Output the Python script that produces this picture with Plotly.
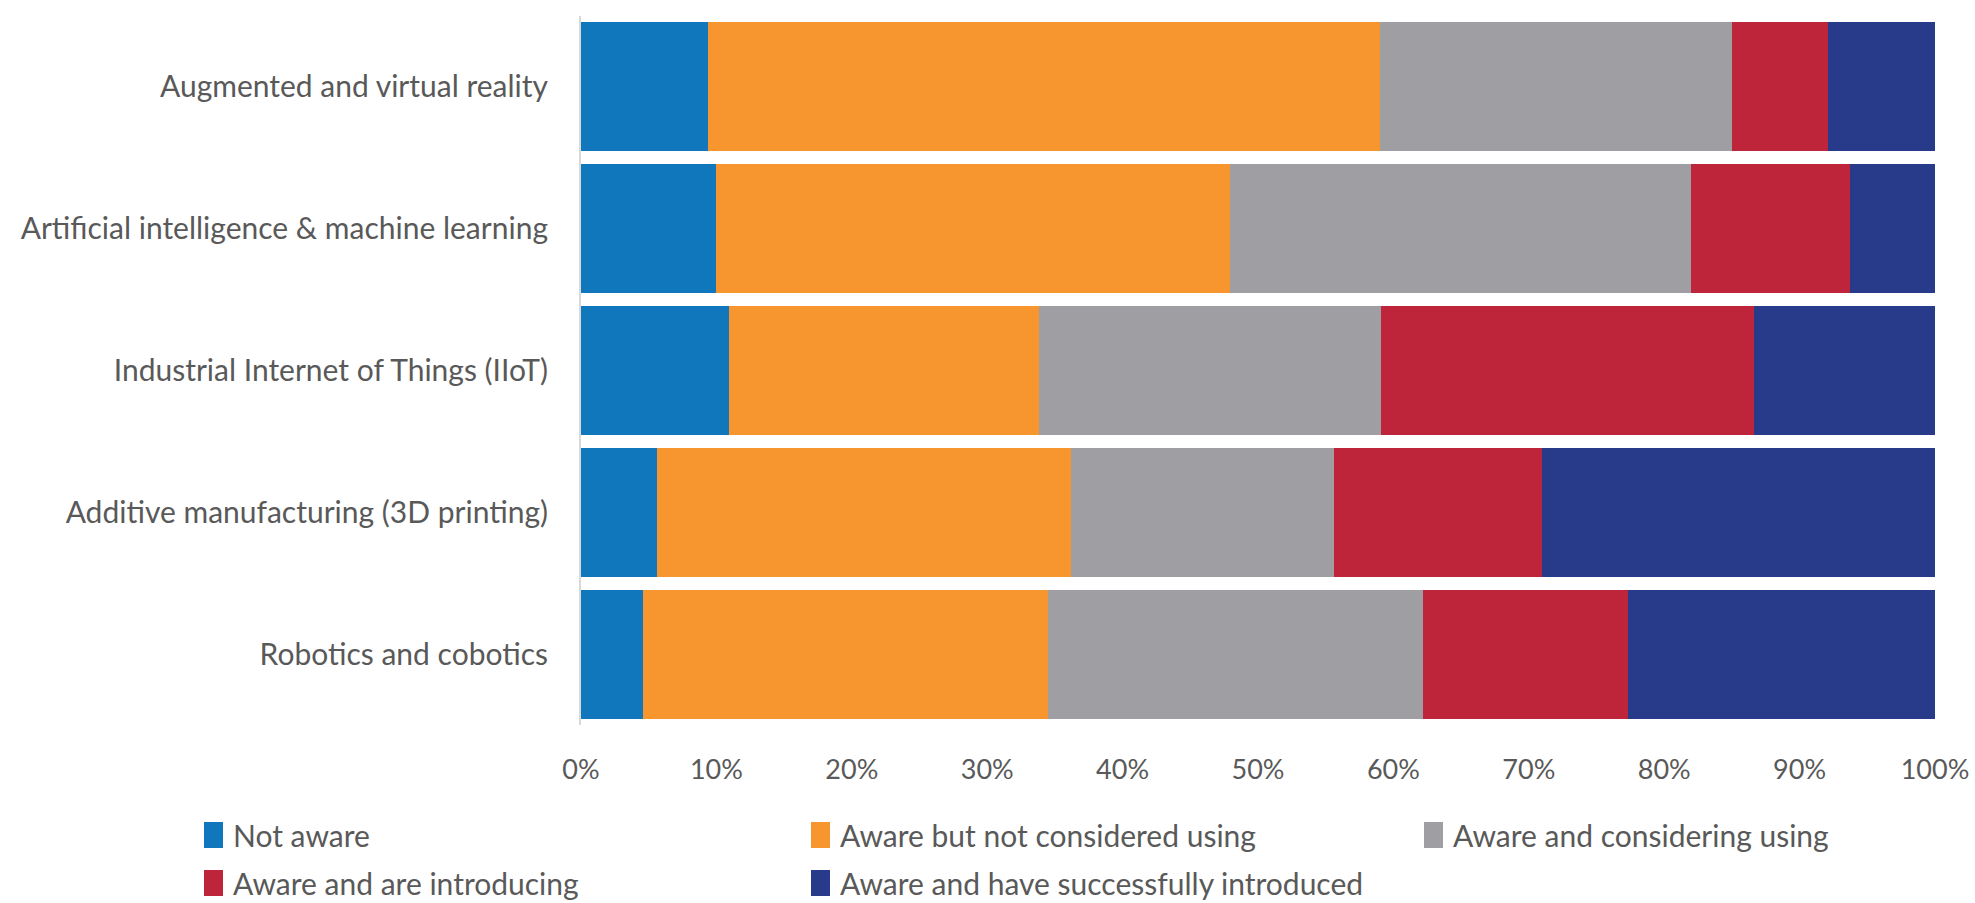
import plotly.graph_objects as go

# Technologies (top to bottom) and share of respondents per awareness level
technologies = [
    "Augmented and virtual reality",
    "Artificial intelligence & machine learning",
    "Industrial Internet of Things (IIoT)",
    "Additive manufacturing (3D printing)",
    "Robotics and cobotics",
]
not_aware = [9.4, 10.0, 10.9, 5.6, 4.6]
aware_not_considered = [49.6, 37.9, 22.9, 30.6, 29.9]
aware_considering = [26.0, 34.1, 25.3, 19.4, 27.7]
aware_introducing = [7.1, 11.7, 27.5, 15.4, 15.1]
aware_introduced = [7.9, 6.3, 13.4, 29.0, 22.7]

series_names = [
    "Not aware",
    "Aware but not considered using",
    "Aware and considering using",
    "Aware and are introducing",
    "Aware and have successfully introduced",
]
series_values = [not_aware, aware_not_considered, aware_considering,
                 aware_introducing, aware_introduced]
colors = ["#1177BC", "#F7962F", "#9F9EA3", "#BE253A", "#283A8A"]

FONT = "Lato"
TEXT = "#595959"

fig = go.Figure()
for name, vals, col in zip(series_names, series_values, colors):
    fig.add_trace(go.Bar(
        y=technologies, x=[v / 100 for v in vals], name=name,
        orientation="h", marker=dict(color=col, line=dict(width=0)),
        showlegend=False,
    ))

# Legend laid out as a 3-column grid below the axis (pixel positions)
W, H = 1975, 903
L, R, T, B = 581, 40, 16, 178
PW, PH = W - L - R, H - T - B
legend_pos = [(204, 835), (811, 835), (1424, 835), (204, 883), (811, 883)]


def px_x(x):
    return (x - L) / PW


def px_y(y):
    return (H - B - y) / PH


for (px, py), name, col in zip(legend_pos, series_names, colors):
    fig.add_shape(type="rect", xref="paper", yref="paper",
                  x0=px_x(px), x1=px_x(px + 19),
                  y0=px_y(py + 13), y1=px_y(py - 13),
                  fillcolor=col, line=dict(width=0))
    fig.add_annotation(xref="paper", yref="paper",
                       x=px_x(px + 27), y=px_y(py),
                       xanchor="left", yanchor="middle", text=name,
                       showarrow=False,
                       font=dict(family=FONT, size=30, color=TEXT))

fig.update_layout(
    barmode="stack",
    bargap=0.09,
    width=W, height=H,
    margin=dict(l=L, r=R, t=T, b=B),
    paper_bgcolor="white", plot_bgcolor="white",
    font=dict(family=FONT, size=30, color=TEXT),
    xaxis=dict(range=[0, 1], tickformat=".0%", dtick=0.1, tick0=0,
               showgrid=False, zeroline=False, showline=False,
               ticks="", ticklabelstandoff=26, fixedrange=True,
               automargin=False, tickfont=dict(size=27)),
    yaxis=dict(autorange="reversed", showgrid=False, zeroline=False,
               showline=True, linecolor="#D9D9D9", linewidth=2,
               ticks="", ticklabelstandoff=25, automargin=False,
               tickfont=dict(size=30)),
)

fig.write_html("out.html")
